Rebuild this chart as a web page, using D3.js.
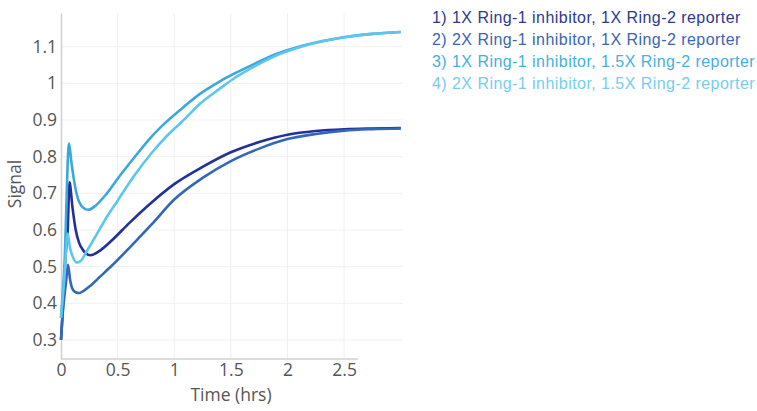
<!DOCTYPE html>
<html>
<head>
<meta charset="utf-8">
<script src="https://cdn.jsdelivr.net/npm/d3@7"></script>
<style>
  body { margin: 0; background: #fff; }
  svg { display: block; }
</style>
</head>
<body>
<div id="chart"></div>
<script>
const seriesNames = [
  '1) 1X Ring-1 inhibitor, 1X Ring-2 reporter',
  '2) 2X Ring-1 inhibitor, 1X Ring-2 reporter',
  '3) 1X Ring-1 inhibitor, 1.5X Ring-2 reporter',
  '4) 2X Ring-1 inhibitor, 1.5X Ring-2 reporter'
];
const seriesColors = ['#22309a', '#3467ba', '#3ba7dd', '#5cc6ef'];
const legendColors = ['#2c3a8e', '#3a66b2', '#45b0e2', '#76cdef'];

// time (hrs) / signal for each series
const t1 = [0, 0.012, 0.045, 0.058, 0.075, 0.1, 0.13, 0.16, 0.2, 0.26, 0.33, 0.45, 0.6, 0.8, 1.0, 1.25, 1.5, 1.75, 2.0, 2.25, 2.5, 2.75, 3.0];
const s1 = [0.30, 0.36, 0.55, 0.59, 0.73, 0.665, 0.6, 0.565, 0.543, 0.531, 0.541, 0.572, 0.618, 0.675, 0.725, 0.772, 0.812, 0.84, 0.86, 0.87, 0.875, 0.877, 0.878];

const t2 = [0, 0.012, 0.045, 0.062, 0.08, 0.1, 0.13, 0.16, 0.2, 0.26, 0.35, 0.45, 0.6, 0.8, 1.0, 1.25, 1.5, 1.75, 2.0, 2.25, 2.5, 2.75, 3.0];
const s2 = [0.30, 0.36, 0.46, 0.505, 0.465, 0.44, 0.43, 0.428, 0.434, 0.448, 0.474, 0.503, 0.55, 0.615, 0.683, 0.742, 0.788, 0.822, 0.848, 0.862, 0.871, 0.875, 0.877];

const t3 = [0, 0.03, 0.071, 0.09, 0.11, 0.15, 0.2, 0.24, 0.3, 0.4, 0.5, 0.64, 0.8, 0.93, 1.1, 1.23, 1.4, 1.52, 1.7, 1.9, 2.1, 2.3, 2.5, 2.75, 3.0];
const s3 = [0.36, 0.5, 0.836, 0.79, 0.745, 0.685, 0.66, 0.655, 0.665, 0.698, 0.74, 0.795, 0.855, 0.895, 0.94, 0.972, 1.005, 1.025, 1.052, 1.08, 1.1, 1.115, 1.126, 1.135, 1.14];

const t4 = [0, 0.03, 0.059, 0.08, 0.1, 0.14, 0.18, 0.22, 0.3, 0.39, 0.5, 0.64, 0.8, 0.93, 1.1, 1.23, 1.4, 1.52, 1.7, 1.9, 2.1, 2.3, 2.5, 2.75, 3.0];
const s4 = [0.36, 0.47, 0.59, 0.55, 0.53, 0.511, 0.517, 0.538, 0.58, 0.628, 0.68, 0.745, 0.81, 0.855, 0.905, 0.945, 0.985, 1.012, 1.045, 1.076, 1.098, 1.114, 1.126, 1.135, 1.14];

const xTicks = [0, 0.5, 1, 1.5, 2, 2.5];
const yTicks = [0.3, 0.4, 0.5, 0.6, 0.7, 0.8, 0.9, 1, 1.1];

const series = [[t1, s1], [t2, s2], [t3, s3], [t4, s4]].map(([t, s], i) => ({
  name: seriesNames[i],
  color: seriesColors[i],
  legendColor: legendColors[i],
  points: t.map((d, j) => ({ t: d, v: s[j] }))
}));

const W = 757, H = 411;
const svg = d3.select('#chart').append('svg').attr('width', W).attr('height', H);

const x = d3.scaleLinear().domain([0, 3.02]).range([61, 403]);
const y = d3.scaleLinear().domain([0.248, 1.192]).range([359, 13]);

const tickFont = '"Open Sans", sans-serif';

// grid
svg.append('g').selectAll('line').data(xTicks.slice(1)).enter().append('line')
  .attr('x1', d => x(d)).attr('x2', d => x(d))
  .attr('y1', y.range()[1]).attr('y2', y.range()[0])
  .attr('stroke', '#f0f0f0').attr('stroke-width', 1);
svg.append('g').selectAll('line').data(yTicks).enter().append('line')
  .attr('x1', x.range()[0]).attr('x2', x.range()[1])
  .attr('y1', d => y(d)).attr('y2', d => y(d))
  .attr('stroke', '#f0f0f0').attr('stroke-width', 1);

// axes
const xAxis = svg.append('g').attr('transform', `translate(0,${y.range()[0]})`)
  .call(d3.axisBottom(x).tickValues(xTicks).tickSize(0).tickPadding(5).tickFormat(d3.format('')));
xAxis.select('.domain').attr('d', `M${x(0)},0H358`).attr('stroke', '#d0d0d0').attr('stroke-width', 1.5);
xAxis.selectAll('text').style('font-family', tickFont).style('font-size', '17.5px').attr('fill', '#555');

const yAxis = svg.append('g').attr('transform', `translate(${x.range()[0]},0)`)
  .call(d3.axisLeft(y).tickValues(yTicks).tickSize(0).tickPadding(4).tickFormat(d3.format('')));
yAxis.select('.domain').attr('stroke', '#d0d0d0').attr('stroke-width', 1.5);
yAxis.selectAll('text').style('font-family', tickFont).style('font-size', '17.5px').attr('fill', '#555');

svg.append('text').attr('x', 231).attr('y', 401).attr('text-anchor', 'middle')
  .style('font-family', tickFont).style('font-size', '17.5px').attr('fill', '#555').text('Time (hrs)');
svg.append('text').attr('transform', 'translate(21,184) rotate(-90)').attr('text-anchor', 'middle')
  .style('font-family', tickFont).style('font-size', '17.5px').attr('fill', '#555').text('Signal');

// lines
const line = d3.line().x(d => x(d.t)).y(d => y(d.v)).curve(d3.curveMonotoneX);
svg.append('g').selectAll('path').data(series).enter().append('path')
  .attr('d', d => line(d.points))
  .attr('fill', 'none')
  .attr('stroke', d => d.color)
  .attr('stroke-width', 2.6)
  .attr('stroke-linejoin', 'round');

// legend
const legend = svg.append('g');
legend.selectAll('text').data(series).enter().append('text')
  .attr('x', 432).attr('y', (d, i) => 22.5 + i * 22)
  .style('font-family', '"Liberation Sans", Arial, sans-serif')
  .style('font-size', '16px')
  .style('letter-spacing', '0.45px')
  .attr('fill', d => d.legendColor)
  .text(d => d.name);
</script>
</body>
</html>
